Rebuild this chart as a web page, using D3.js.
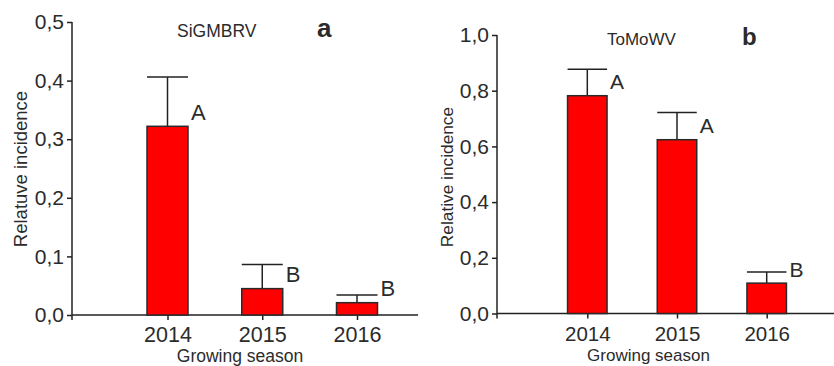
<!DOCTYPE html>
<html>
<head>
<meta charset="utf-8">
<script src="https://cdn.jsdelivr.net/npm/d3@7"></script>
<style>
  html, body { margin: 0; padding: 0; background: #fff; }
  svg { display: block; }
  text { font-family: "Liberation Sans", Arial, sans-serif; fill: #2b2b2b; }
</style>
</head>
<body>
<svg id="chart" width="834" height="366"></svg>
<script>
// ---- data ----
const seasons = ["2014", "2015", "2016"];

const siTitle = "SiGMBRV";
const siValues = [0.322, 0.045, 0.021];
const siErrors = [0.084, 0.041, 0.013];
const siLetters = ["A", "B", "B"];
const siTicks = [0, 0.1, 0.2, 0.3, 0.4, 0.5];

const toTitle = "ToMoWV";
const toValues = [0.782, 0.624, 0.109];
const toErrors = [0.095, 0.098, 0.040];
const toLetters = ["A", "A", "B"];
const toTicks = [0, 0.2, 0.4, 0.6, 0.8, 1.0];

const xTitle = "Growing season";
const yTitleA = "Relatuve incidence";
const yTitleB = "Relative incidence";

// ---- drawing ----
const svg = d3.select("#chart");
const fmt = v => d3.format(".1f")(v).replace(".", ",");

function drawPanel(p) {
  const g = svg.append("g");
  const y = d3.scaleLinear().domain([0, p.yMax]).range([p.y0, p.y1]);
  const x = d3.scalePoint().domain(seasons).range([p.xFirst, p.xLast]);
  const bw = p.barW;

  // y axis ticks & labels
  const yAxis = d3.axisLeft(y).tickValues(p.ticks).tickFormat(fmt)
    .tickSize(5).tickSizeOuter(0).tickPadding(3);
  const ya = g.append("g").attr("transform", `translate(${p.axX},0)`).call(yAxis);
  ya.select(".domain").remove();
  ya.selectAll(".tick line").attr("stroke", "#222").attr("stroke-width", 1.5);
  ya.selectAll(".tick text").attr("font-size", p.tickFont).attr("fill", "#2b2b2b")
    .attr("font-family", "Liberation Sans, Arial, sans-serif");

  // x axis ticks & labels
  const xAxis = d3.axisBottom(x).tickSize(5).tickSizeOuter(0).tickPadding(4);
  const xa = g.append("g").attr("transform", `translate(0,${p.y0})`).call(xAxis);
  xa.select(".domain").remove();
  xa.selectAll(".tick line").attr("stroke", "#222").attr("stroke-width", 1.5);
  xa.selectAll(".tick text").attr("font-size", p.xTickFont).attr("fill", "#2b2b2b")
    .attr("font-family", "Liberation Sans, Arial, sans-serif")
    .attr("dy", null).attr("y", p.xTickBase - p.y0);

  // axis lines
  g.append("line").attr("x1", p.axX).attr("x2", p.axX)
    .attr("y1", y(p.yMax)).attr("y2", p.y0 + 5)
    .attr("stroke", "#222").attr("stroke-width", 1.5);
  g.append("line").attr("x1", p.axX).attr("x2", p.axXEnd)
    .attr("y1", p.y0).attr("y2", p.y0)
    .attr("stroke", "#222").attr("stroke-width", 1.5);

  const data = seasons.map((s, i) => ({ s, v: p.values[i], e: p.errors[i], l: p.letters[i] }));

  // error bars
  g.selectAll(".err").data(data).join("line")
    .attr("x1", d => x(d.s)).attr("x2", d => x(d.s))
    .attr("y1", d => y(d.v)).attr("y2", d => y(d.v + d.e))
    .attr("stroke", "#222").attr("stroke-width", 1.5);
  g.selectAll(".cap").data(data).join("line")
    .attr("x1", d => x(d.s) - bw / 2).attr("x2", d => x(d.s) + bw / 2)
    .attr("y1", d => y(d.v + d.e)).attr("y2", d => y(d.v + d.e))
    .attr("stroke", "#222").attr("stroke-width", 1.5);

  // bars
  g.selectAll(".bar").data(data).join("rect")
    .attr("x", d => x(d.s) - bw / 2)
    .attr("y", d => y(d.v))
    .attr("width", bw)
    .attr("height", d => y(0) - y(d.v))
    .attr("fill", "#ff0000")
    .attr("stroke", "#2a2a2a").attr("stroke-width", 1.5);

  // significance letters
  g.selectAll(".lt").data(data).join("text")
    .attr("x", d => x(d.s) + bw / 2 + 3)
    .attr("y", d => y(d.v) - 6.5)
    .attr("font-size", p.letterFont)
    .text(d => d.l);

  // titles
  g.append("text").attr("x", p.titleX).attr("y", p.titleY)
    .attr("font-size", p.titleFont).text(p.title);
  g.append("text").attr("x", p.tagX).attr("y", p.tagY)
    .attr("font-size", p.tagFont).attr("font-weight", "bold").attr("fill", "#111").text(p.tag);

  // axis titles
  g.append("text").attr("x", p.xtX).attr("y", p.xtY).attr("text-anchor", "middle")
    .attr("font-size", p.xtFont).text(xTitle);
  g.append("text")
    .attr("transform", `translate(${p.ytX},${p.ytY}) rotate(-90)`)
    .attr("text-anchor", "middle").attr("font-size", p.ytFont).text(p.yTitle);
}

drawPanel({
  values: siValues, errors: siErrors, letters: siLetters, ticks: siTicks,
  yMax: 0.5, y0: 315, y1: 22, axX: 72, axXEnd: 418,
  xFirst: 167.5, xLast: 357, barW: 41,
  tickFont: 21, xTickFont: 21.5, xTickBase: 341.5, letterFont: 22,
  title: siTitle, titleX: 177, titleY: 36.5, titleFont: 17.5,
  tag: "a", tagX: 317, tagY: 36.5, tagFont: 26,
  xtX: 240, xtY: 362, xtFont: 17.5,
  yTitle: yTitleA, ytX: 27, ytY: 169, ytFont: 18.5
});

drawPanel({
  values: toValues, errors: toErrors, letters: toLetters, ticks: toTicks,
  yMax: 1.0, y0: 313.5, y1: 35, axX: 497, axXEnd: 834,
  xFirst: 587.3, xLast: 766.7, barW: 39.5,
  tickFont: 21, xTickFont: 20.5, xTickBase: 341, letterFont: 21,
  title: toTitle, titleX: 607, titleY: 45, titleFont: 17,
  tag: "b", tagX: 742, tagY: 45, tagFont: 24,
  xtX: 648.5, xtY: 361, xtFont: 17,
  yTitle: yTitleB, ytX: 453, ytY: 177, ytFont: 17.3
});
</script>
</body>
</html>
